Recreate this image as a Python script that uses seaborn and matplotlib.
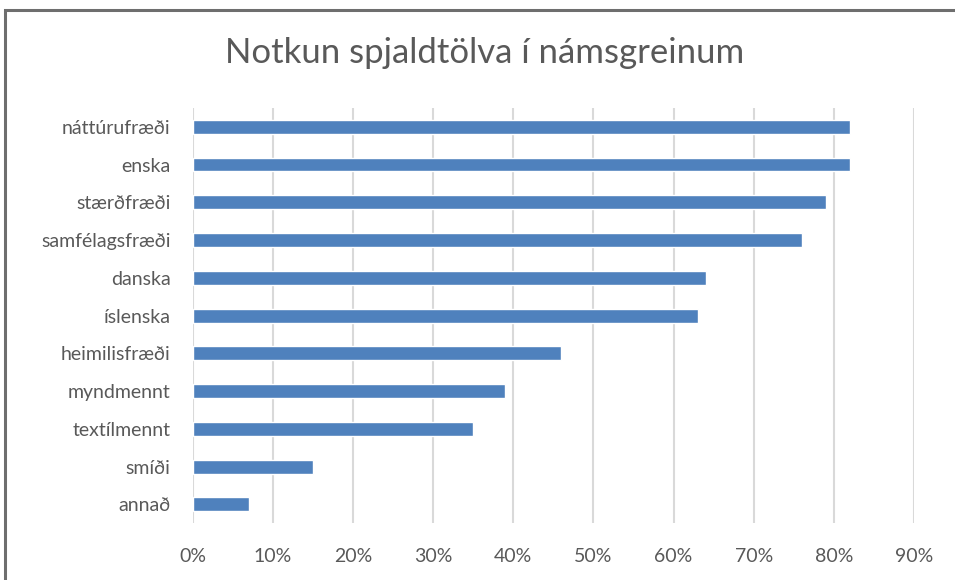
import matplotlib
matplotlib.use("Agg")
import matplotlib.pyplot as plt
from matplotlib.patches import Rectangle
from matplotlib.ticker import PercentFormatter
import pandas as pd
import seaborn as sns

# data
subjects = ["náttúrufræði", "enska", "stærðfræði", "samfélagsfræði", "danska",
            "íslenska", "heimilisfræði", "myndmennt", "textílmennt", "smíði", "annað"]
share = [0.82, 0.82, 0.79, 0.76, 0.64, 0.63, 0.46, 0.39, 0.35, 0.15, 0.07]
x_ticks = [0.0, 0.1, 0.2, 0.3, 0.4, 0.5, 0.6, 0.7, 0.8, 0.9]
title = "Notkun spjaldtölva í námsgreinum"

text_grey = "#595959"
grid_grey = "#d9d9d9"
bar_blue = "#4f81bd"

sns.set_style("white")
plt.rcParams["font.family"] = ["Lato", "DejaVu Sans"]

df = pd.DataFrame({"subject": subjects, "share": share})

fig = plt.figure(figsize=(9.55, 5.8), dpi=100)
ax = fig.add_axes([0.202, 0.098, 0.755, 0.716])

sns.barplot(data=df, x="share", y="subject", orient="h", color=bar_blue,
            width=0.37, saturation=1, ax=ax, zorder=3)

ax.set_xlim(0, 0.9)
ax.set_ylim(10.5, -0.5)
ax.set_xticks(x_ticks)
ax.xaxis.set_major_formatter(PercentFormatter(1.0, decimals=0))
ax.grid(axis="x", color=grid_grey, linewidth=1.5, zorder=0)
ax.set_axisbelow(True)
for s in ax.spines.values():
    s.set_visible(False)
ax.set_xlabel("")
ax.set_ylabel("")
ax.tick_params(axis="both", length=0, labelsize=14, colors=text_grey)
ax.tick_params(axis="x", pad=18)
ax.tick_params(axis="y", pad=16)

fig.text(0.507, 0.908, title, ha="center", va="center", fontsize=25,
         color=text_grey)

# outer chart frame (only top and left edges are inside the crop)
fig.patches.append(Rectangle((5 / 955, -0.05), 1.1, (580 - 10) / 580 + 0.05,
                             transform=fig.transFigure, fill=False,
                             edgecolor="#6e6e6e", linewidth=2.2))

fig.savefig("out.png", dpi=100)
